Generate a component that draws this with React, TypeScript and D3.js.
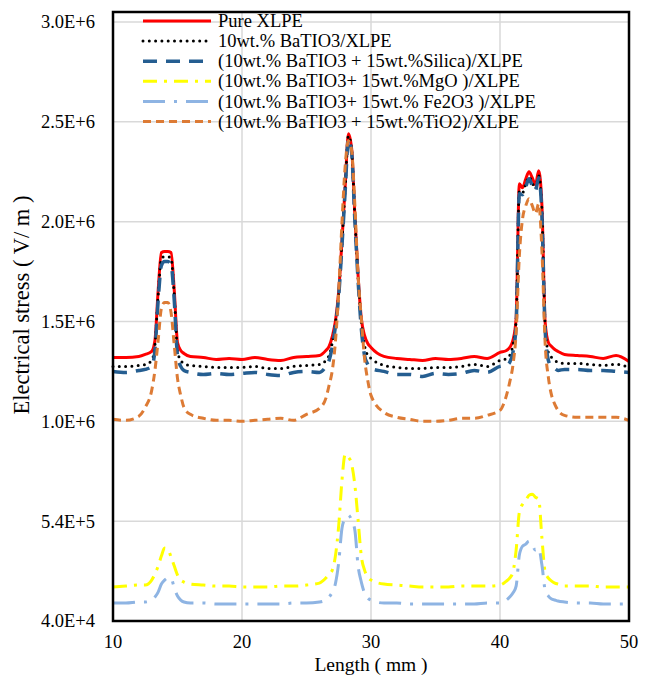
import React from "react";
import * as d3 from "d3";

// Length along the cable (mm)
const LENGTH = [
  10, 11, 12, 12.5, 13, 13.25, 13.5, 13.75, 14, 14.25, 14.5, 14.75, 15, 15.25, 15.5,
  16, 17, 18, 19, 20, 21, 22, 23, 24, 25, 26,
  26.5, 26.75, 27, 27.25, 27.5, 27.75, 28, 28.25, 28.5, 28.75, 29, 29.25, 29.5, 29.75, 30,
  31, 32, 33, 34, 35, 36, 37, 38, 39, 40,
  40.5, 40.75, 41, 41.25, 41.5, 41.75, 42, 42.25, 42.5, 42.75, 43, 43.25, 43.5, 43.75, 44, 44.25, 44.5,
  45, 46, 47, 48, 49, 50,
];

// Electrical stress, in units of 1E+6 V/m
const PURE_XLPE = [
  1.36, 1.36, 1.365, 1.375, 1.39, 1.445, 1.695, 1.885, 1.89, 1.89, 1.885, 1.695, 1.435, 1.395, 1.38,
  1.365, 1.36, 1.35, 1.355, 1.35, 1.36, 1.35, 1.345, 1.36, 1.365, 1.37,
  1.395, 1.415, 1.465, 1.545, 1.695, 1.945, 2.22, 2.48, 2.405, 2.07, 1.77, 1.555, 1.47, 1.43, 1.41,
  1.365, 1.355, 1.35, 1.345, 1.355, 1.35, 1.355, 1.365, 1.355, 1.385,
  1.395, 1.41, 1.445, 1.555, 2.23, 2.21, 2.255, 2.29, 2.26, 2.225, 2.295, 2.12, 1.535, 1.435, 1.415, 1.40, 1.39,
  1.375, 1.37, 1.365, 1.355, 1.37, 1.34,
];

const BATIO3 = [
  1.315, 1.315, 1.32, 1.325, 1.345, 1.42, 1.67, 1.855, 1.865, 1.865, 1.855, 1.67, 1.395, 1.345, 1.33,
  1.32, 1.315, 1.31, 1.31, 1.31, 1.315, 1.305, 1.305, 1.315, 1.32, 1.325,
  1.345, 1.37, 1.435, 1.535, 1.685, 1.935, 2.21, 2.47, 2.395, 2.06, 1.76, 1.535, 1.42, 1.37, 1.355,
  1.32, 1.31, 1.305, 1.305, 1.31, 1.31, 1.315, 1.325, 1.315, 1.345,
  1.355, 1.37, 1.42, 1.545, 2.195, 2.185, 2.23, 2.265, 2.235, 2.205, 2.27, 2.095, 1.52, 1.385, 1.36, 1.345, 1.335,
  1.33, 1.33, 1.325, 1.32, 1.325, 1.31,
];

const SILICA = [
  1.29, 1.285, 1.295, 1.30, 1.315, 1.395, 1.645, 1.82, 1.84, 1.84, 1.825, 1.645, 1.37, 1.315, 1.295,
  1.285, 1.275, 1.28, 1.275, 1.28, 1.285, 1.275, 1.27, 1.285, 1.29, 1.285,
  1.315, 1.345, 1.415, 1.52, 1.67, 1.92, 2.195, 2.455, 2.385, 2.045, 1.745, 1.505, 1.37, 1.325, 1.305,
  1.29, 1.275, 1.275, 1.265, 1.28, 1.275, 1.28, 1.295, 1.285, 1.315,
  1.32, 1.335, 1.385, 1.52, 2.18, 2.175, 2.215, 2.255, 2.22, 2.195, 2.26, 2.07, 1.495, 1.345, 1.315, 1.305, 1.295,
  1.30, 1.30, 1.295, 1.295, 1.29, 1.285,
];

const MGO = [
  0.21, 0.215, 0.22, 0.22, 0.245, 0.275, 0.315, 0.365, 0.405, 0.40, 0.36, 0.315, 0.27, 0.245, 0.235,
  0.225, 0.22, 0.215, 0.215, 0.21, 0.21, 0.21, 0.215, 0.215, 0.22, 0.23,
  0.255, 0.275, 0.295, 0.37, 0.52, 0.745, 0.875, 0.86, 0.825, 0.72, 0.545, 0.365, 0.295, 0.26, 0.245,
  0.225, 0.22, 0.215, 0.21, 0.21, 0.21, 0.215, 0.215, 0.215, 0.22,
  0.24, 0.255, 0.285, 0.395, 0.585, 0.625, 0.645, 0.67, 0.675, 0.66, 0.65, 0.455, 0.285, 0.255, 0.24, 0.23, 0.225,
  0.215, 0.215, 0.215, 0.21, 0.21, 0.21,
];

const FE2O3 = [
  0.13, 0.13, 0.135, 0.135, 0.145, 0.16, 0.185, 0.225, 0.245, 0.255, 0.255, 0.205, 0.165, 0.145, 0.135,
  0.13, 0.13, 0.125, 0.125, 0.125, 0.125, 0.125, 0.125, 0.13, 0.13, 0.135,
  0.145, 0.16, 0.185, 0.23, 0.335, 0.505, 0.555, 0.57, 0.545, 0.495, 0.315, 0.235, 0.18, 0.155, 0.145,
  0.13, 0.13, 0.125, 0.125, 0.125, 0.125, 0.125, 0.125, 0.13, 0.13,
  0.145, 0.16, 0.18, 0.215, 0.37, 0.415, 0.425, 0.44, 0.42, 0.395, 0.405, 0.32, 0.195, 0.165, 0.15, 0.145, 0.14,
  0.135, 0.13, 0.13, 0.125, 0.125, 0.125,
];

const TIO2 = [
  1.05, 1.045, 1.065, 1.11, 1.195, 1.295, 1.445, 1.605, 1.635, 1.635, 1.585, 1.42, 1.255, 1.17, 1.11,
  1.075, 1.055, 1.045, 1.045, 1.04, 1.045, 1.05, 1.055, 1.045, 1.075, 1.105,
  1.155, 1.22, 1.295, 1.445, 1.695, 2.035, 2.32, 2.445, 2.395, 2.12, 1.77, 1.555, 1.355, 1.245, 1.17,
  1.085, 1.06, 1.05, 1.04, 1.04, 1.045, 1.055, 1.055, 1.07, 1.095,
  1.17, 1.235, 1.32, 1.485, 1.87, 2.055, 2.12, 2.155, 2.12, 2.08, 2.13, 1.895, 1.43, 1.26, 1.17, 1.125, 1.095,
  1.07, 1.06, 1.06, 1.06, 1.06, 1.045,
];

const SERIES_NAMES = [
  "Pure XLPE",
  "10wt.% BaTIO3/XLPE",
  "(10wt.% BaTIO3 + 15wt.%Silica)/XLPE",
  "(10wt.% BaTIO3+ 15wt.%MgO )/XLPE",
  "(10wt.% BaTIO3+ 15wt.% Fe2O3 )/XLPE",
  "(10wt.% BaTIO3 + 15wt.%TiO2)/XLPE",
];

const X_TICKS = [10, 20, 30, 40, 50];
const Y_TICKS = [0.04, 0.54, 1.04, 1.54, 2.04, 2.54, 3.04];
const Y_TICK_LABELS = ["4.0E+4", "5.4E+5", "1.0E+6", "1.5E+6", "2.0E+6", "2.5E+6", "3.0E+6"];

const W = 649;
const H = 677;
const PLOT = { left: 113, right: 629, top: 12, bottom: 621 };
const FONT = "'Times New Roman', 'Liberation Serif', serif";

export default function App() {
  const x = d3.scaleLinear().domain([10, 50]).range([PLOT.left, PLOT.right]);
  const y = d3.scaleLinear().domain([0.04, 3.09]).range([PLOT.bottom, PLOT.top]);

  const styles = [
    { color: "#FF0000", dash: "none", width: 3, cap: "butt" },
    { color: "#000000", dash: "0 6.3", width: 3, cap: "round" },
    { color: "#255E91", dash: "14 9", width: 3.5, cap: "butt" },
    { color: "#FFFF00", dash: "14 7 3 7", width: 3, cap: "butt" },
    { color: "#8EB4E3", dash: "22 9 3 9", width: 3, cap: "butt" },
    { color: "#DD7B35", dash: "8 5", width: 3, cap: "butt" },
  ];
  const seriesValues = [PURE_XLPE, BATIO3, SILICA, MGO, FE2O3, TIO2];
  const series = SERIES_NAMES.map((name, i) => ({
    name,
    ...styles[i],
    points: LENGTH.map((l, j) => [l, seriesValues[i][j]] as [number, number]),
  }));

  const line = d3
    .line<[number, number]>()
    .x((d) => x(d[0]))
    .y((d) => y(d[1]))
    .curve(d3.curveMonotoneX);

  return (
    <svg
      width={W}
      height={H}
      style={{ position: "absolute", left: 0, top: 0, background: "#fff" }}
      fontFamily={FONT}
    >
      <rect x={0} y={0} width={W} height={H} fill="#fff" />
      {/* grid */}
      {Y_TICKS.slice(1).map((t) => (
        <line key={"gy" + t} x1={PLOT.left} x2={PLOT.right} y1={y(t)} y2={y(t)} stroke="#D9D9D9" strokeWidth={1.5} />
      ))}
      {X_TICKS.slice(1, -1).map((t) => (
        <line key={"gx" + t} x1={x(t)} x2={x(t)} y1={PLOT.top} y2={PLOT.bottom} stroke="#D9D9D9" strokeWidth={1.5} />
      ))}
      {/* series */}
      {series.map((s) => (
        <path
          key={s.name}
          d={line(s.points) || ""}
          fill="none"
          stroke={s.color}
          strokeWidth={s.width}
          strokeDasharray={s.dash}
          strokeLinecap={s.cap as any}
          strokeLinejoin="round"
        />
      ))}
      {/* frame */}
      <rect
        x={PLOT.left}
        y={PLOT.top}
        width={PLOT.right - PLOT.left}
        height={PLOT.bottom - PLOT.top}
        fill="none"
        stroke="#000"
        strokeWidth={2.5}
      />
      {/* y tick labels */}
      {Y_TICKS.map((t, i) => (
        <text key={"yl" + t} x={95} y={y(t)} dy="0.35em" textAnchor="end" fontSize={18.5} fill="#000">
          {Y_TICK_LABELS[i]}
        </text>
      ))}
      {/* x tick labels */}
      {X_TICKS.map((t) => (
        <text key={"xl" + t} x={x(t)} y={648} textAnchor="middle" fontSize={18.5} fill="#000">
          {t}
        </text>
      ))}
      <text x={371} y={671} textAnchor="middle" fontSize={19.5} fill="#000">
        Length ( mm )
      </text>
      <text
        transform={`translate(29, 305) rotate(-90)`}
        textAnchor="middle"
        fontSize={22.5}
        fill="#000"
      >
        Electrical stress ( V/ m )
      </text>
      {/* legend */}
      {series.map((s, i) => {
        const ly = 21 + i * 20.1;
        return (
          <g key={"lg" + i}>
            <line
              x1={143}
              x2={211}
              y1={ly}
              y2={ly}
              stroke={s.color}
              strokeWidth={s.width}
              strokeDasharray={s.dash}
              strokeLinecap={s.cap as any}
            />
            <text x={218} y={ly} dy="0.33em" fontSize={18.5} fill="#000">
              {s.name}
            </text>
          </g>
        );
      })}
    </svg>
  );
}
